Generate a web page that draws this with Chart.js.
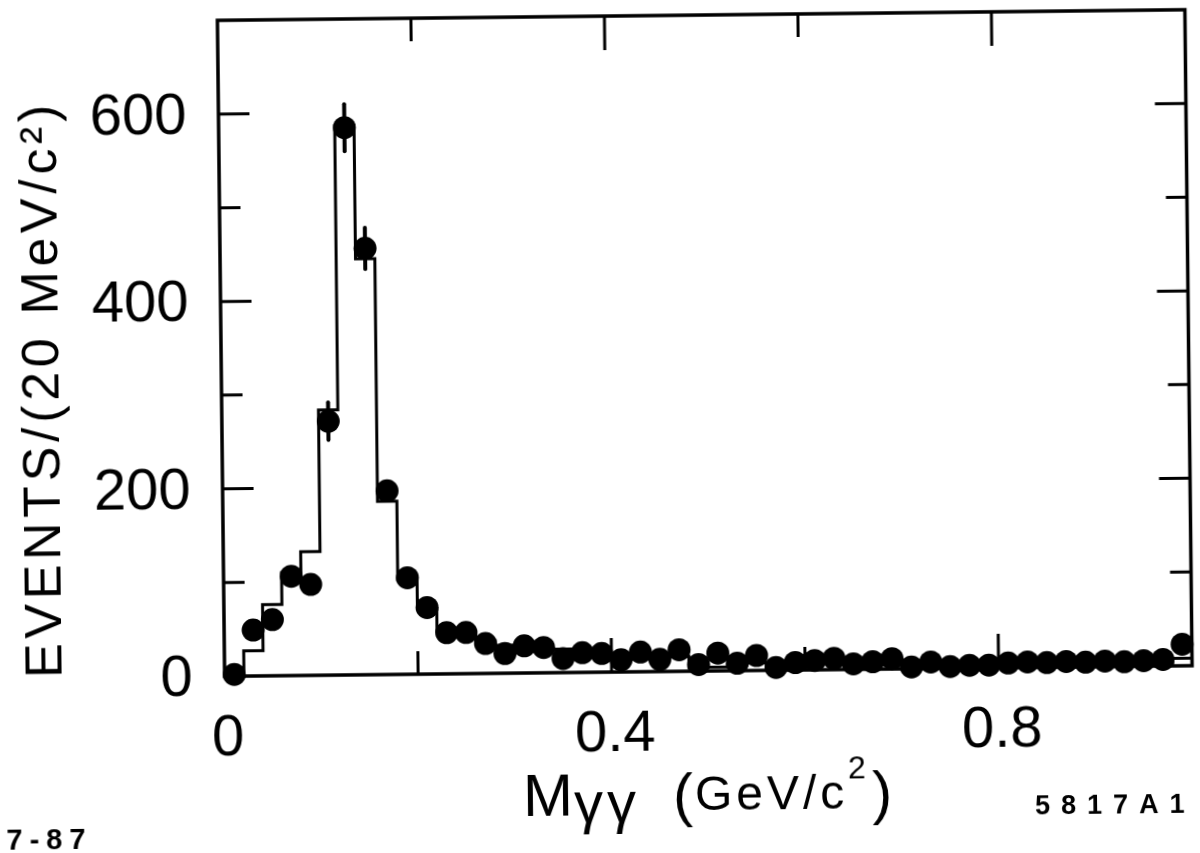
<!DOCTYPE html>
<html><head><meta charset="utf-8">
<script src="https://cdn.jsdelivr.net/npm/chart.js@4"></script>
<style>
html,body{margin:0;padding:0;background:#fff;overflow:hidden;width:1200px;height:853px}
#wrap{position:absolute;left:0;top:0;width:1200px;height:853px;transform:rotate(-0.63deg);transform-origin:707px 343px}
canvas{display:block}
</style></head>
<body><div id="wrap"><canvas id="c" width="1200" height="853"></canvas></div>
<script>
// Bin centres of M_gammagamma (GeV/c^2), 20 MeV bins
const binCenters = [0.01,0.03,0.05,0.07,0.09,0.11,0.13,0.15,0.17,0.19,
  0.21,0.23,0.25,0.27,0.29,0.31,0.33,0.35,0.37,0.39,
  0.41,0.43,0.45,0.47,0.49,0.51,0.53,0.55,0.57,0.59,
  0.61,0.63,0.65,0.67,0.69,0.71,0.73,0.75,0.77,0.79,
  0.81,0.83,0.85,0.87,0.89,0.91,0.93,0.95,0.97,0.99];
const binWidth = 0.02;
// Data points (events / 20 MeV)
const dataCounts = [2,49,60,106,97,271,584,455,196,103,
  71,44,44,32,21,29,27,15,21,20,
  13,21,13,23,7,19,8,16,3,8,
  10,12,6,8,11,2,7,2,3,3,
  5,6,5,6,5,6,5,6,7,23];
// Statistical errors (only visible where they exceed the dot)
const dataErrors = [0,0,0,0,0,20,25,22,0,0,
  0,0,0,0,0,0,0,0,0,0,
  0,0,0,0,0,0,0,0,0,0,
  0,0,0,0,0,0,0,0,0,0,
  0,0,0,0,0,0,0,0,0,0];
// Histogram (simulation) per bin
const mcCounts = [0,27,76,110,132,283,586,444,185,101,
  70,46,40,35,30,28,26,25,20,18,
  15,14,15,16,4,4,6,8,6,7,
  8,8,7,6,7,6,6,5,5,6,
  5,5,6,5,5,5,5,5,3,8];
const xTickValues = [0.2,0.4,0.6,0.8];
const xMajorTicks = [0.4,0.8];
const xLabelValues = [0,0.4,0.8];
const xLabelTexts = ["0","0.4","0.8"];
const yTickValues = [100,200,300,400,500,600];
const yMajorTicks = [200,400,600];
const yLabelValues = [0,200,400,600];
const yLabelTexts = ["0","200","400","600"];
const yTitle = "EVENTS/(20 MeV/c\u00B2)";

// step line: first point at the low edge of bin 0, then each bin's value at its high edge
const histPoints = [{x:binCenters[0]-binWidth/2, y:mcCounts[0]}]
  .concat(binCenters.map((c,i)=>({x:c+binWidth/2, y:mcCounts[i]})));
const dotPoints = binCenters.map((c,i)=>({x:c, y:dataCounts[i]}));

const INK = '#000';

const bgPlugin = {
  id:'bg',
  beforeDraw(chart){
    const ctx = chart.ctx;
    ctx.save(); ctx.fillStyle='#fff'; ctx.fillRect(0,0,chart.width,chart.height); ctx.restore();
  }
};

const errPlugin = {
  id:'errs',
  afterDatasetsDraw(chart){
    const ctx = chart.ctx, xs = chart.scales.x, ys = chart.scales.y;
    ctx.save(); ctx.strokeStyle=INK; ctx.lineWidth=4; ctx.lineCap='round';
    binCenters.forEach((c,i)=>{
      const e = dataErrors[i]; if(!e) return;
      const px = xs.getPixelForValue(c);
      ctx.beginPath();
      ctx.moveTo(px, ys.getPixelForValue(dataCounts[i]-e));
      ctx.lineTo(px, ys.getPixelForValue(dataCounts[i]+e));
      ctx.stroke();
    });
    ctx.restore();
  }
};

const framePlugin = {
  id:'frame',
  afterDraw(chart){
    const ctx = chart.ctx, a = chart.chartArea, xs = chart.scales.x, ys = chart.scales.y;
    ctx.save();
    ctx.strokeStyle = INK; ctx.fillStyle = INK;
    ctx.lineWidth = 3.5;
    ctx.strokeRect(a.left, a.top, a.right-a.left, a.bottom-a.top);
    ctx.lineWidth = 3;
    const MAJ = 34, MIN = 23;
    xTickValues.forEach(v=>{
      const px = xs.getPixelForValue(v);
      const L = xMajorTicks.includes(v) ? MAJ : MIN;
      ctx.beginPath();
      ctx.moveTo(px, a.bottom); ctx.lineTo(px, a.bottom-L);
      ctx.moveTo(px, a.top); ctx.lineTo(px, a.top+L);
      ctx.stroke();
    });
    yTickValues.forEach(v=>{
      const py = ys.getPixelForValue(v);
      const L = yMajorTicks.includes(v) ? MAJ-3 : MIN-2;
      ctx.beginPath();
      ctx.moveTo(a.left, py); ctx.lineTo(a.left+L, py);
      ctx.moveTo(a.right, py); ctx.lineTo(a.right-L, py);
      ctx.stroke();
    });
    // tick labels
    ctx.font = "58px 'Liberation Sans', Arial, sans-serif";
    ctx.textBaseline = 'middle';
    ctx.textAlign = 'right';
    yLabelValues.forEach((v,i)=>{
      ctx.fillText(yLabelTexts[i], a.left-32, ys.getPixelForValue(v)+3);
    });
    ctx.textAlign = 'center';
    xLabelValues.forEach((v,i)=>{
      ctx.fillText(xLabelTexts[i], xs.getPixelForValue(v)+3, a.bottom+63);
    });
    // y axis title
    ctx.save();
    ctx.font = "52px 'Liberation Sans', Arial, sans-serif";
    ctx.letterSpacing = '0px';
    const w0 = ctx.measureText(yTitle).width;
    const ls = (578 - w0) / yTitle.length;
    ctx.letterSpacing = ls.toFixed(2)+'px';
    ctx.translate(58, 384);
    ctx.rotate(-Math.PI/2);
    ctx.textAlign = 'center';
    ctx.textBaseline = 'alphabetic';
    ctx.fillText(yTitle, ls/2, 0);
    ctx.restore();
    // x axis title
    ctx.save();
    ctx.textAlign = 'left'; ctx.textBaseline = 'alphabetic';
    let x = 518;
    ctx.font = "60px 'Liberation Sans', Arial, sans-serif";
    ctx.fillText("M", x, 814);
    x += ctx.measureText("M").width + 1;
    ctx.letterSpacing = '4px';
    ctx.font = "58px 'Liberation Sans', Arial, sans-serif";
    ctx.fillText("\u03B3\u03B3", x, 821);
    ctx.letterSpacing = '0px';
    x = 668;
    ctx.font = "60px 'Liberation Sans', Arial, sans-serif";
    ctx.fillText("(", x, 815);
    x += ctx.measureText("(").width + 2;
    ctx.font = "48px 'Liberation Sans', Arial, sans-serif";
    ctx.letterSpacing = '4px';
    ctx.fillText("GeV/c", x, 810);
    x += ctx.measureText("GeV/c").width;
    ctx.letterSpacing = '0px';
    ctx.font = "32px 'Liberation Sans', Arial, sans-serif";
    ctx.fillText("2", x, 780);
    x += ctx.measureText("2").width + 6;
    ctx.font = "60px 'Liberation Sans', Arial, sans-serif";
    ctx.fillText(")", x, 815);
    ctx.restore();
    // corner marks
    ctx.save();
    ctx.textAlign='left'; ctx.textBaseline='alphabetic';
    ctx.font = "bold 29px 'Liberation Sans', Arial, sans-serif";
    ctx.letterSpacing = '7px';
    ctx.fillText("7-87", 1, 842);
    ctx.font = "bold 27px 'Liberation Sans', Arial, sans-serif";
    ctx.letterSpacing = '11px';
    ctx.fillText("5817A1", 1030, 818);
    ctx.restore();
    ctx.restore();
  }
};

new Chart(document.getElementById('c'), {
  type:'scatter',
  data:{ datasets:[
    { type:'scatter', data:dotPoints, pointRadius:11.5, pointHoverRadius:11.5,
      backgroundColor:INK, borderColor:INK, borderWidth:0, clip:false },
    { type:'line', data:histPoints, stepped:'after', borderColor:INK, borderWidth:3,
      pointRadius:0, fill:false, clip:false, tension:0 }
  ]},
  options:{
    responsive:false, animation:false, devicePixelRatio:1,
    layout:{ padding:{ left:221, top:15, right:8, bottom:182 } },
    plugins:{ legend:{display:false}, tooltip:{enabled:false} },
    events:[],
    scales:{
      x:{ type:'linear', min:0, max:1, display:false },
      y:{ type:'linear', min:0, max:700, display:false }
    }
  },
  plugins:[bgPlugin, errPlugin, framePlugin]
});
</script>
</body></html>
